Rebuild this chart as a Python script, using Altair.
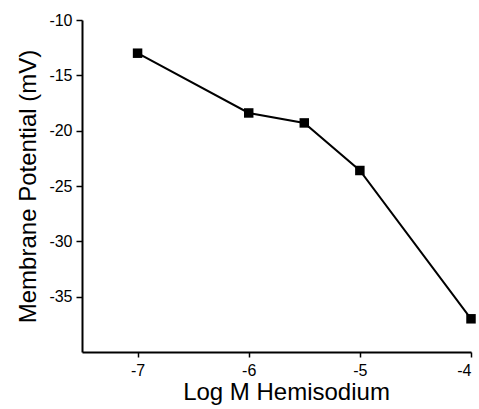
import altair as alt
import pandas as pd

# Membrane potential response to hemisodium concentration
log_conc = [-7.0, -6.0, -5.5, -5.0, -4.0]
potential_mv = [-13.0, -18.4, -19.3, -23.6, -37.0]

df = pd.DataFrame({"log_conc": log_conc, "potential": potential_mv})

FONT = "Liberation Sans"
# plain hyphen for negative tick labels
HYPHEN_LABEL = "replace(format(datum.value, 'd'), '\u2212', '-')"

x = alt.X(
    "log_conc:Q",
    scale=alt.Scale(domain=[-7.5, -4], nice=False, zero=False),
    axis=alt.Axis(
        title="Log M Hemisodium",
        values=[-7, -6, -5, -4],
        labelExpr=HYPHEN_LABEL,
        grid=False,
        tickSize=5,
        labelPadding=5,
        titlePadding=2,
        titleFontSize=24,
        titleX=204,
    ),
)
y = alt.Y(
    "potential:Q",
    scale=alt.Scale(domain=[-40, -10], nice=False, zero=False),
    axis=alt.Axis(
        title="Membrane Potential (mV)",
        values=[-10, -15, -20, -25, -30, -35],
        labelExpr=HYPHEN_LABEL,
        grid=False,
        tickSize=6,
        labelPadding=4,
        titlePadding=8,
        titleFontSize=24,
    ),
)

line = alt.Chart(df).mark_line(color="black", strokeWidth=2).encode(x=x, y=y)
points = alt.Chart(df).mark_point(
    shape="square", filled=True, color="black", size=90, opacity=1
).encode(x=x, y=y)

chart = (
    alt.layer(line, points)
    .properties(
        width=389,
        height=332,
        autosize=alt.AutoSizeParams(type="none"),
        padding={"left": 82, "top": 20, "right": 8, "bottom": 57},
    )
    .configure_view(stroke=None)
    .configure_axis(
        domainColor="black",
        domainWidth=2,
        tickColor="black",
        tickWidth=1.5,
        labelColor="black",
        titleColor="black",
        labelFont=FONT,
        titleFont=FONT,
        labelFontSize=16,
        titleFontWeight="normal",
    )
)

chart.save("out.html", embed_options={"renderer": "svg", "actions": False})
